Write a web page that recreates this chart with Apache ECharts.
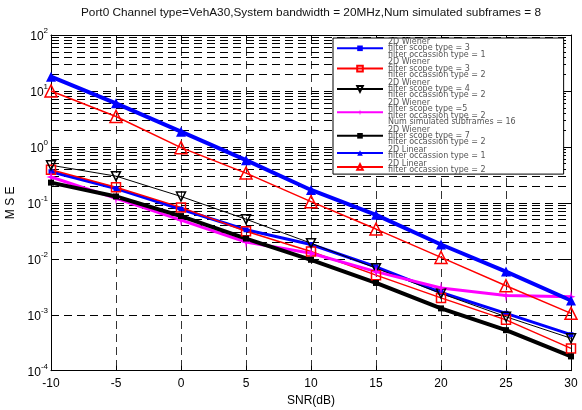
<!DOCTYPE html>
<html><head><meta charset="utf-8">
<script src="https://cdn.jsdelivr.net/npm/echarts@6/dist/echarts.min.js"></script>
<style>html,body{margin:0;padding:0;background:#fff}#c{width:582px;height:410px}</style>
</head><body><div id="c"></div>
<script>
// ---- data ----
const snr = [-10, -5, 0, 5, 10, 15, 20, 25, 30];
const wienerS3O1 = [0.36, 0.18, 0.077, 0.033, 0.018, 0.0072, 0.0025, 0.00106, 0.00044];
const wienerS3O2 = [0.39, 0.19, 0.083, 0.031, 0.0135, 0.0051, 0.0020, 0.00081, 0.00025];
const wienerS4O2 = [0.47, 0.30, 0.13, 0.051, 0.019, 0.0068, 0.0024, 0.00092, 0.00038];
const wienerS5O2N16 = [0.29, 0.12, 0.049, 0.020, 0.0126, 0.0059, 0.0030, 0.0022, 0.0021];
const wienerS7O2 = [0.23, 0.13, 0.058, 0.023, 0.0096, 0.0037, 0.0013, 0.00053, 0.00018];
const linearO1 = [18, 6.0, 1.87, 0.58, 0.17, 0.061, 0.018, 0.0059, 0.0018];
const linearO2 = [10, 3.5, 0.97, 0.34, 0.105, 0.034, 0.0106, 0.0033, 0.00106];
const seriesNames = [
  '2D Wiener\nfilter scope type = 3\nfilter occassion type = 1',
  '2D Wiener\nfilter scope type = 3\nfilter occassion type = 2',
  '2D Wiener\nfilter scope type = 4\nfilter occassion type = 2',
  '2D Wiener\nfilter scope type =5\nfilter occassion type = 2\nNum simulated subframes = 16',
  '2D Wiener\nfilter scope type = 7\nfilter occassion type = 2',
  '2D Linear\nfilter occassion type = 1',
  '2D Linear\nfilter occassion type = 2'
];
const titleText = 'Port0 Channel type=VehA30,System bandwidth = 20MHz,Num simulated subframes = 8';
const xName = 'SNR(dB)';
const yName = 'M S E';
const yMin = 1e-4, yMax = 100;

// ---- minor log grid values (2..9 x 10^k) ----
const minorVals = [];
for (let e = -4; e < 2; e++) for (let k = 2; k <= 9; k++) minorVals.push(k * Math.pow(10, e));

const FONT = 'Liberation Sans';
const dash = [8, 5];
const star = 'path://M0,-10 L2,-2 L10,0 L2,2 L0,10 L-2,2 L-10,0 L-2,-2 Z';

function mk(name, vals, color, width, symbol, size, hollow, rotate) {
  return {
    name, type: 'line', data: snr.map((x, i) => [x, vals[i]]),
    symbol, symbolSize: size, symbolRotate: rotate || 0, showAllSymbol: true, z: 3,
    lineStyle: { color, width },
    itemStyle: hollow ? { color: 'rgba(0,0,0,0)', borderColor: color, borderWidth: 1.5 }
                      : { color, borderColor: color, borderWidth: 0 },
    emphasis: { disabled: true }
  };
}

const chart = echarts.init(document.getElementById('c'), null, { renderer: 'canvas' });
chart.setOption({
  animation: false,
  backgroundColor: '#fff',
  title: {
    text: titleText, left: 311, top: 7, textAlign: 'center', padding: 0,
    textStyle: { fontFamily: FONT, fontSize: 11.8, fontWeight: 'normal', color: '#111' }
  },
  grid: { left: 51, right: 11, top: 35, bottom: 39.3, containLabel: false, outerBoundsMode: 'none' },
  legend: {
    orient: 'vertical', left: 333, top: 38, itemWidth: 46, itemHeight: 7, itemGap: -0.3, z: 20,
    padding: [0, 48, 0, 3], backgroundColor: '#fff', borderColor: '#000', borderWidth: 1,
    textStyle: { fontFamily: 'DejaVu Sans', fontSize: 8, lineHeight: 6.3, color: '#555' },
    data: seriesNames, selectedMode: false
  },
  xAxis: [{
    type: 'value', min: -10, max: 30, interval: 5, position: 'bottom',
    axisLine: { show: true, onZero: false, lineStyle: { color: '#000', width: 1 } },
    axisTick: { show: true, inside: true, length: 5, lineStyle: { color: '#000' } },
    axisLabel: { color: '#000', fontFamily: FONT, fontSize: 12, margin: 7 },
    splitLine: { show: true, lineStyle: { color: '#333', type: dash, width: 1 } },
    name: xName, nameLocation: 'middle', nameGap: 24,
    nameTextStyle: { fontFamily: FONT, fontSize: 12, color: '#000' }
  }, {
    type: 'value', min: -10, max: 30, interval: 5, position: 'top',
    axisLine: { show: true, onZero: false, lineStyle: { color: '#000', width: 1 } },
    axisTick: { show: true, inside: true, length: 5, lineStyle: { color: '#000' } },
    axisLabel: { show: false }, splitLine: { show: false }
  }],
  yAxis: [{
    type: 'log', logBase: 10, min: yMin, max: yMax, splitNumber: 6, position: 'left',
    axisLine: { show: true, onZero: false, lineStyle: { color: '#000', width: 1 } },
    axisTick: { show: true, inside: true, length: 5, lineStyle: { color: '#000' } },
    axisLabel: {
      margin: 3,
      formatter: v => '{b|10}{e|' + Math.round(Math.log10(v)) + '}',
      rich: {
        b: { fontFamily: FONT, fontSize: 12, lineHeight: 16, verticalAlign: 'bottom', color: '#000' },
        e: { fontFamily: FONT, fontSize: 8, lineHeight: 9, verticalAlign: 'top', color: '#000' }
      }
    },
    splitLine: { show: true, lineStyle: { color: '#000', type: dash, width: 1 } },
    name: yName, nameLocation: 'middle', nameGap: 28, nameRotate: 90,
    nameTextStyle: { fontFamily: FONT, fontSize: 12, color: '#000' }
  }, {
    type: 'log', logBase: 10, min: yMin, max: yMax, splitNumber: 6, position: 'right',
    axisLine: { show: true, onZero: false, lineStyle: { color: '#000', width: 1 } },
    axisTick: { show: true, inside: true, length: 5, lineStyle: { color: '#000' } },
    axisLabel: { show: false }, splitLine: { show: false }
  }],
  series: [
    {
      name: '', type: 'line', data: [], z: 1, silent: true,
      markLine: {
        z: 1, silent: true, symbol: ['none', 'none'], label: { show: false }, animation: false,
        lineStyle: { color: '#000', type: dash, width: 1 },
        emphasis: { disabled: true },
        data: minorVals.map(v => ({ yAxis: v }))
      }
    },
    mk(seriesNames[0], wienerS3O1, '#0000ff', 3, 'rect', 5, false),
    mk(seriesNames[1], wienerS3O2, '#ff0000', 1.5, 'rect', 9, true),
    mk(seriesNames[2], wienerS4O2, '#000000', 1, 'triangle', 9, true, 180),
    mk(seriesNames[3], wienerS5O2N16, '#ff00ff', 3, star, [9, 13], false),
    mk(seriesNames[4], wienerS7O2, '#000000', 4, 'rect', 6, false),
    mk(seriesNames[5], linearO1, '#0000ff', 4, 'triangle', 10, false),
    mk(seriesNames[6], linearO2, '#ff0000', 1.5, 'triangle', 12, true)
  ]
});
</script>
</body></html>
